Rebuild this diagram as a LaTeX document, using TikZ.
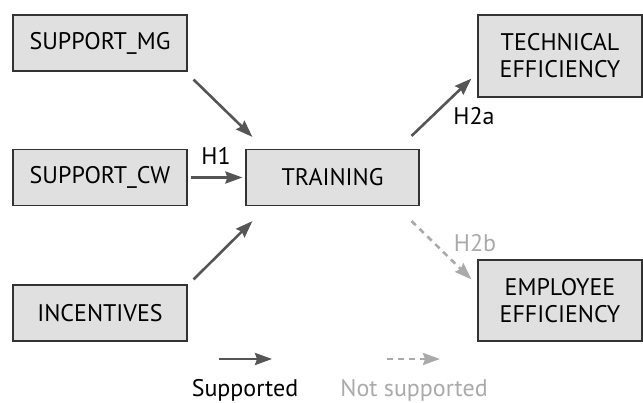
\documentclass[tikz,border=0pt]{standalone}
\usepackage{fontspec}
\setmainfont{PT Sans}
\usetikzlibrary{arrows.meta}

\definecolor{boxfill}{HTML}{E0E0E0}
\definecolor{boxline}{HTML}{333333}
\definecolor{arrgray}{HTML}{555555}
\definecolor{nsgray}{HTML}{AAAAAA}

\tikzset{
  var/.style={draw=boxline, line width=1.2pt, fill=boxfill, inner sep=0pt,
    minimum width=174pt, minimum height=56pt, align=center,
    font=\fontsize{24}{27}\selectfont},
  sup/.style={draw=arrgray, line width=2.6pt,
    -{Stealth[length=17pt,width=12pt,inset=2pt]}},
  nsup/.style={draw=nsgray, line width=2.6pt, dash pattern=on 6pt off 5pt,
    -{Stealth[length=17pt,width=12pt,inset=2pt]}},
  lbl/.style={font=\fontsize{24}{27}\selectfont, inner sep=0pt, anchor=base}
}

\begin{document}
\begin{tikzpicture}[x=1pt,y=-1pt]
    \useasboundingbox (0,0) rectangle (643,403);
    % variables
    \node[var] (mg) at (100,43) {SUPPORT\_MG};
    \node[var] (cw) at (100,177.5) {SUPPORT\_CW};
    \node[var] (inc) at (100,313) {INCENTIVES};
    \node[var, minimum width=173pt] (train) at (332.5,177.5) {TRAINING};
    \node[var, minimum width=164pt, minimum height=82pt] (tech) at (560,56) {TECHNICAL\\EFFICIENCY};
    \node[var, minimum width=164pt, minimum height=81pt] (emp) at (560,300.5) {EMPLOYEE\\EFFICIENCY};
    % hypotheses
    \draw[sup] ([shift={(6,8)}]mg.south east) -- ([shift={(7,-12)}]train.north west);
    \draw[sup] ([xshift=3pt]cw.east) -- ([xshift=-3pt]train.west);
    \node[lbl] (h1) at (216,165) {H1};
    \draw[sup] ([shift={(6,-5)}]inc.north east) -- ([shift={(7,15)}]train.south west);
    \draw[sup] ([shift={(-8,-13)}]train.north east) -- ([shift={(-6,-19)}]tech.south west);
    \node[lbl] (h2a) at (474,125) {H2a};
    \draw[nsup] ([shift={(-8,15)}]train.south east) -- ([shift={(-6,20)}]emp.north west);
    \node[lbl, text=nsgray] (h2b) at (475,252) {H2b};
    % legend
    \node[lbl] (lsup) at (245,396) {Supported};
    \node[lbl, text=nsgray] (lnsup) at (414,396) {Not supported};
    \draw[sup] ([shift={(-26,-37)}]lsup.base) -- ++(53,0);
    \draw[nsup] ([shift={(-27,-37)}]lnsup.base) -- ++(53,0);
\end{tikzpicture}
\end{document}
